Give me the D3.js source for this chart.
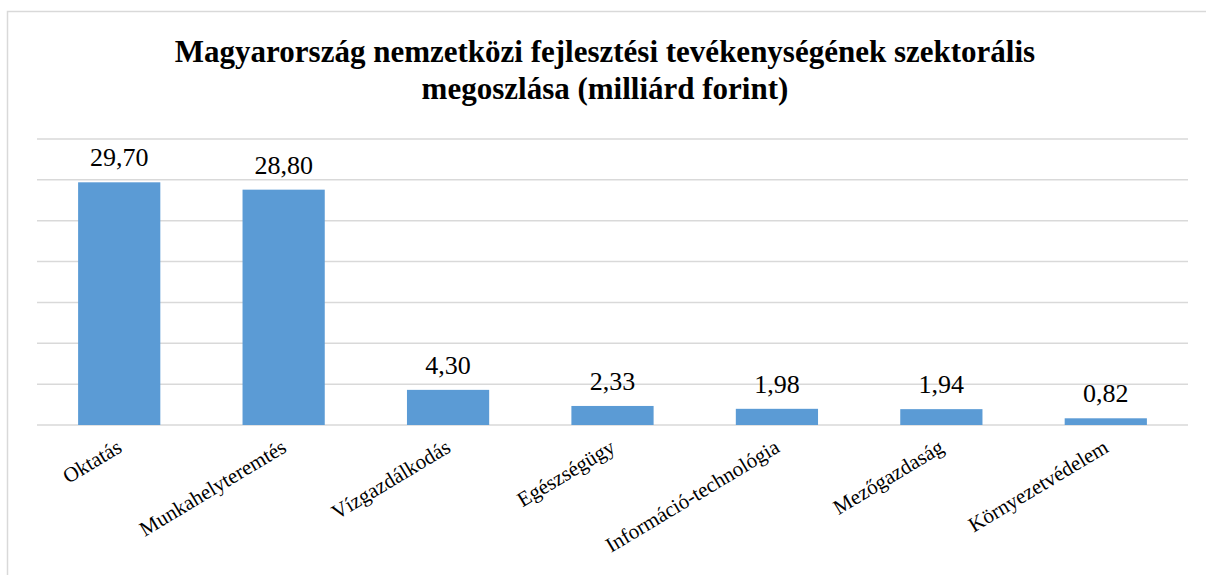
<!DOCTYPE html>
<html>
<head>
<meta charset="utf-8">
<script src="https://cdn.jsdelivr.net/npm/d3@7"></script>
<style>
	html, body { margin: 0; padding: 0; background: #fff; }
	#canvas { width: 1206px; height: 575px; }
</style>
</head>
<body>
<div id="canvas"></div>
<script>
const categories = ['Oktatás', 'Munkahelyteremtés', 'Vízgazdálkodás', 'Egészségügy', 'Információ-technológia', 'Mezőgazdaság', 'Környezetvédelem'];
const values = [29.7, 28.8, 4.3, 2.33, 1.98, 1.94, 0.82];
const yTicks = [0, 5, 10, 15, 20, 25, 30, 35];
const titleLines = ['Magyarország nemzetközi fejlesztési tevékenységének szektorális', 'megoszlása (milliárd forint)'];

const FONT = "'Liberation Serif', 'Times New Roman', 'DejaVu Serif', serif";
const width = 1206;
const height = 575;
const margins = { top: 139, bottom: 150, left: 37, right: 18 };

const svg = d3.select('#canvas').append('svg')
	.attr('width', width)
	.attr('height', height)
	.style('font-family', FONT);

// chart frame
svg.append('rect')
	.attr('x', 7.5).attr('y', 11.5)
	.attr('width', width + 10).attr('height', height + 10)
	.attr('fill', 'none')
	.attr('stroke', '#d9d9d9')
	.attr('stroke-width', 1.5);

const x = d3.scaleBand()
	.domain(categories)
	.range([margins.left, width - margins.right])
	.paddingInner(0.5)
	.paddingOuter(0.25);

const y = d3.scaleLinear()
	.domain([0, 35])
	.range([height - margins.bottom, margins.top]);

// gridlines
svg.append('g').attr('id', 'grid')
	.selectAll('line')
	.data(yTicks)
	.join('line')
	.attr('x1', margins.left)
	.attr('x2', width - margins.right)
	.attr('y1', d => y(d))
	.attr('y2', d => y(d))
	.attr('stroke', '#d9d9d9')
	.attr('stroke-width', 1.5);

// bars
svg.append('g').attr('id', 'bars')
	.selectAll('rect')
	.data(values)
	.join('rect')
	.attr('x', (d, i) => x(categories[i]))
	.attr('y', d => y(d))
	.attr('width', x.bandwidth())
	.attr('height', d => y(0) - y(d))
	.attr('fill', '#5b9bd5');

// value labels
const fmt = d => d3.format('.2f')(d).replace('.', ',');
svg.append('g').attr('id', 'labels')
	.selectAll('text')
	.data(values)
	.join('text')
	.attr('x', (d, i) => x(categories[i]) + x.bandwidth() / 2)
	.attr('y', d => y(d) - 16)
	.attr('text-anchor', 'middle')
	.style('font-family', FONT)
	.attr('font-size', 26)
	.attr('fill', '#000')
	.text(fmt);

// x axis labels
const xAxis = svg.append('g').attr('id', 'xAxis')
	.attr('transform', `translate(0,${y(0)})`)
	.call(d3.axisBottom(x).tickSize(0).tickPadding(0));
xAxis.attr('font-family', null);
xAxis.select('.domain').remove();
xAxis.selectAll('text')
	.style('font-family', FONT)
	.attr('font-size', 21)
	.attr('fill', '#000')
	.attr('text-anchor', 'end')
	.attr('dy', 0)
	.attr('transform', 'translate(4,26) rotate(-31)');

// title
svg.append('text')
	.attr('x', 605)
	.attr('y', 62)
	.attr('text-anchor', 'middle')
	.style('font-family', FONT)
	.attr('font-size', 31)
	.attr('font-weight', 'bold')
	.attr('fill', '#000')
	.selectAll('tspan')
	.data(titleLines)
	.join('tspan')
	.attr('x', 605)
	.attr('dy', (d, i) => (i === 0 ? 0 : 37))
	.text(d => d);
</script>
</body>
</html>
